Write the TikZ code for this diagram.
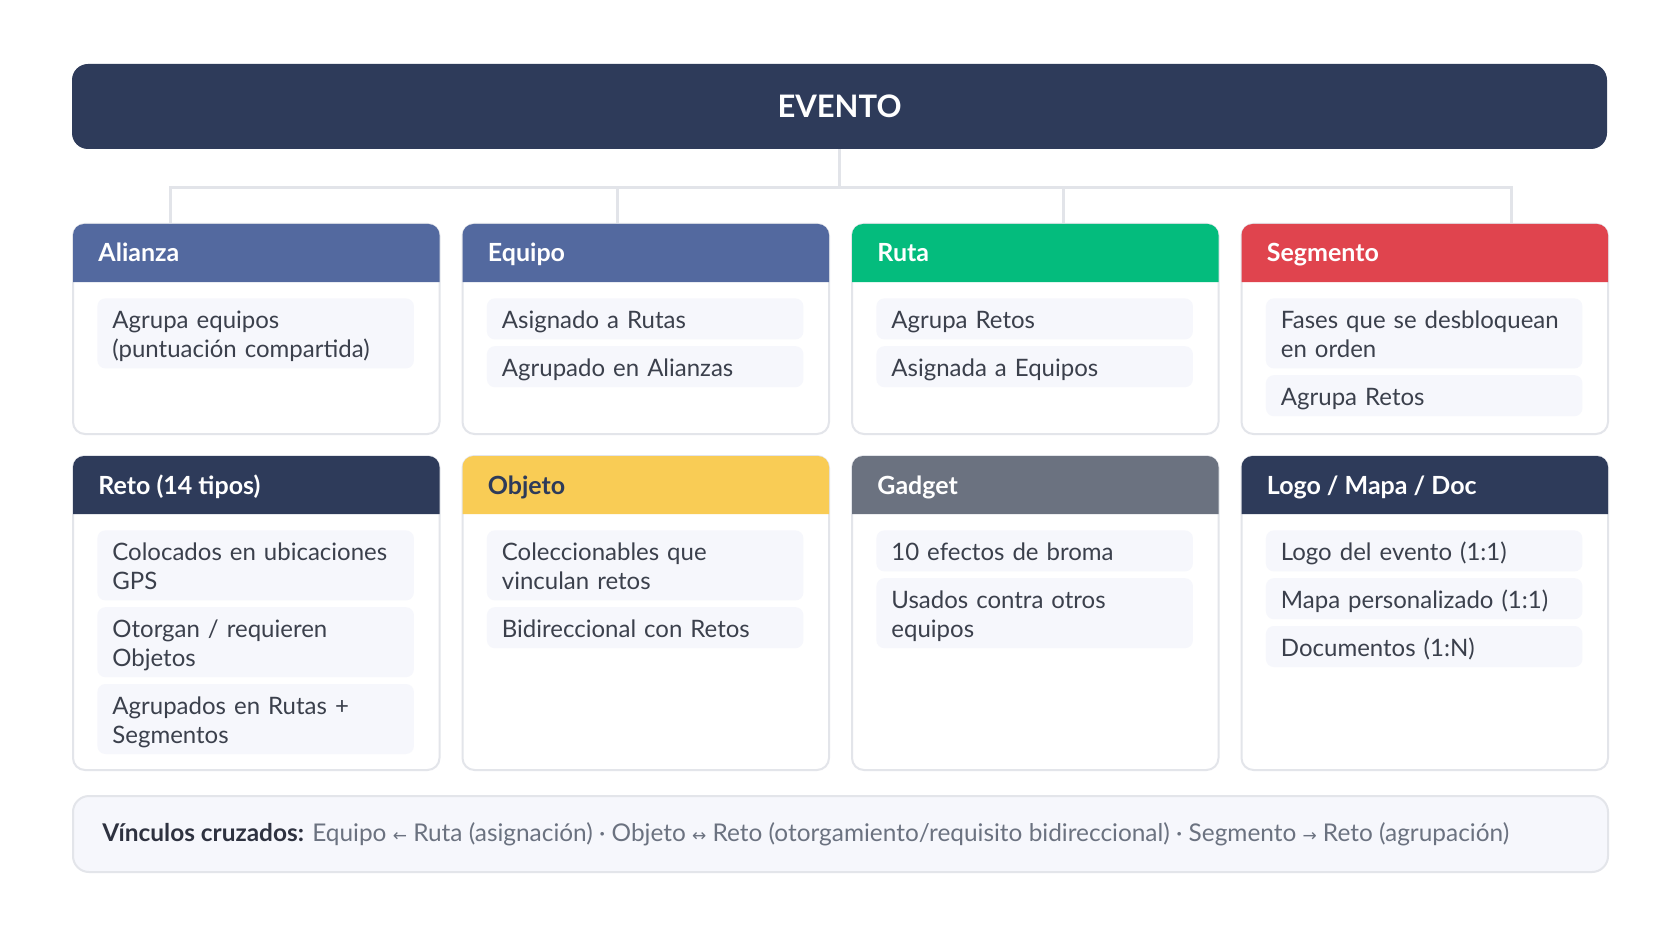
\documentclass[tikz,border=0pt]{standalone}
\usepackage{fontspec}
\setmainfont{Lato}
\newfontfamily\arrowfont{DejaVu Sans}
\usetikzlibrary{positioning}
\definecolor{navy}{HTML}{2E3B5A}
\definecolor{slate}{HTML}{53699F}
\definecolor{hgreen}{HTML}{04BC7D}
\definecolor{hred}{HTML}{E0444E}
\definecolor{hyellow}{HTML}{F9CC55}
\definecolor{hgray}{HTML}{6B7280}
\definecolor{cardline}{HTML}{E3E5EA}
\definecolor{busline}{HTML}{E2E4E9}
\definecolor{itembg}{HTML}{F6F7FC}
\definecolor{itemtxt}{HTML}{3B404C}
\definecolor{linkdark}{HTML}{2E3240}
\begin{document}
\begin{tikzpicture}
[x=0.5pt,y=-0.5pt]
\tikzset{card/.style={draw=cardline,line width=1pt,fill=white,rounded corners=6pt,anchor=north west,minimum width=183.25pt,inner sep=0pt}}
\tikzset{item/.style={fill=itembg,rounded corners=4pt,anchor=north west,text width=143.25pt,inner xsep=7.5pt,inner ysep=3.25pt,align=left,text=itemtxt,font=\fontsize{12}{14.5}\selectfont,execute at begin node={\rule{0pt}{11.75pt}},execute at end node={\rule[-2.25pt]{0pt}{2.25pt}}}}
\tikzset{htext/.style={anchor=base west,inner sep=0pt,text=white,font=\fontsize{12.5}{15}\selectfont\bfseries}}
\tikzset{bus/.style={draw=busline,line width=1.5pt}}
\useasboundingbox (0,0) rectangle (1680,936);
\fill[white] (0,0) rectangle (1680,936);

\node [fill=navy,rounded corners=8pt,minimum width=767.5pt,minimum height=42.5pt,text depth=0pt,text=white,font=\fontsize{15.5}{18}\selectfont\bfseries] (evento) at (839.5,106.5) {EVENTO};

\node [card,minimum height=105pt] (alianza) at (72,223) {};
\node [card,minimum height=105pt] (equipo) at (461.5,223) {};
\node [card,minimum height=105pt] (ruta) at (851,223) {};
\node [card,minimum height=105pt] (segmento) at (1240.5,223) {};
\node [card,minimum height=157pt] (reto) at (72,455) {};
\node [card,minimum height=157pt] (objeto) at (461.5,455) {};
\node [card,minimum height=157pt] (gadget) at (851,455) {};
\node [card,minimum height=157pt] (logo) at (1240.5,455) {};

\foreach \crd/\col in {alianza/slate,equipo/slate,ruta/hgreen,segmento/hred,reto/navy,objeto/hyellow,gadget/hgray,logo/navy}
	\fill[\col] ([xshift=0.5pt,yshift=-29.5pt]\crd.north west) [rounded corners=5.5pt] -- ([xshift=0.5pt,yshift=-0.5pt]\crd.north west) -- ([xshift=-0.5pt,yshift=-0.5pt]\crd.north east) [sharp corners] -- ([xshift=-0.5pt,yshift=-29.5pt]\crd.north east) -- cycle;

\node [htext] (alianzah) at ([xshift=13pt,yshift=-19.5pt]alianza.north west) {Alianza};
\node [htext] (equipoh) at ([xshift=13pt,yshift=-19.5pt]equipo.north west) {Equipo};
\node [htext] (rutah) at ([xshift=13pt,yshift=-19.5pt]ruta.north west) {Ruta};
\node [htext] (segmentoh) at ([xshift=13pt,yshift=-19.5pt]segmento.north west) {Segmento};
\node [htext] (retoh) at ([xshift=13pt,yshift=-19.5pt]reto.north west) {Reto (14 tipos)};
\node [htext,text=navy] (objetoh) at ([xshift=13pt,yshift=-19.5pt]objeto.north west) {Objeto};
\node [htext] (gadgeth) at ([xshift=13pt,yshift=-19.5pt]gadget.north west) {Gadget};
\node [htext] (logoh) at ([xshift=13pt,yshift=-19.5pt]logo.north west) {Logo / Mapa / Doc};

% row 1 items
\node [item] (al1) at ([xshift=12.5pt,yshift=-37.5pt]alianza.north west) {Agrupa equipos\\(puntuación compartida)};
\node [item] (eq1) at ([xshift=12.5pt,yshift=-37.5pt]equipo.north west) {Asignado a Rutas};
\node [item,below=3pt of eq1] (eq2) {Agrupado en Alianzas};
\node [item] (ru1) at ([xshift=12.5pt,yshift=-37.5pt]ruta.north west) {Agrupa Retos};
\node [item,below=3pt of ru1] (ru2) {Asignada a Equipos};
\node [item] (se1) at ([xshift=12.5pt,yshift=-37.5pt]segmento.north west) {Fases que se desbloquean\\en orden};
\node [item,below=3pt of se1] (se2) {Agrupa Retos};

% row 2 items
\node [item] (re1) at ([xshift=12.5pt,yshift=-37.5pt]reto.north west) {Colocados en ubicaciones\\GPS};
\node [item,below=3pt of re1] (re2) {Otorgan / requieren\\Objetos};
\node [item,below=3pt of re2] (re3) {Agrupados en Rutas +\\Segmentos};
\node [item] (ob1) at ([xshift=12.5pt,yshift=-37.5pt]objeto.north west) {Coleccionables que\\vinculan retos};
\node [item,below=3pt of ob1] (ob2) {Bidireccional con Retos};
\node [item] (ga1) at ([xshift=12.5pt,yshift=-37.5pt]gadget.north west) {10 efectos de broma};
\node [item,below=3pt of ga1] (ga2) {Usados contra otros\\equipos};
\node [item] (lo1) at ([xshift=12.5pt,yshift=-37.5pt]logo.north west) {Logo del evento (1:1)};
\node [item,below=3pt of lo1] (lo2) {Mapa personalizado (1:1)};
\node [item,below=3pt of lo2] (lo3) {Documentos (1:N)};

% bus from EVENTO to the first row
\coordinate (d1) at (170,188);
\coordinate (d2) at (617,188);
\coordinate (d3) at (1063,188);
\coordinate (d4) at (1511,188);
\draw [bus] (evento.south) -- (evento.south |- d1);
\draw [bus] (alianza.north -| d1) -- (d1) -- (d4) -- (segmento.north -| d4);
\foreach \from/\to in {d2/equipo,d3/ruta}
	\draw [bus] (\from) -- (\from |- \to.north);

\node [draw=cardline,line width=1pt,fill=itembg,rounded corners=8pt,minimum width=767.5pt,minimum height=38pt,anchor=north west] (links) at (72,795) {};
\node [anchor=west,inner sep=0pt,text=hgray,font=\fontsize{12.2}{14}\selectfont] (linkstxt) at ([xshift=15pt]links.west) {\textcolor{linkdark}{\bfseries Vínculos cruzados:} Equipo {\arrowfont\fontsize{8.5}{8}\selectfont ←} Ruta (asignación) · Objeto {\arrowfont\fontsize{8.5}{8}\selectfont ↔} Reto (otorgamiento/requisito bidireccional) · Segmento {\arrowfont\fontsize{8.5}{8}\selectfont →} Reto (agrupación)};

\end{tikzpicture}
\end{document}
